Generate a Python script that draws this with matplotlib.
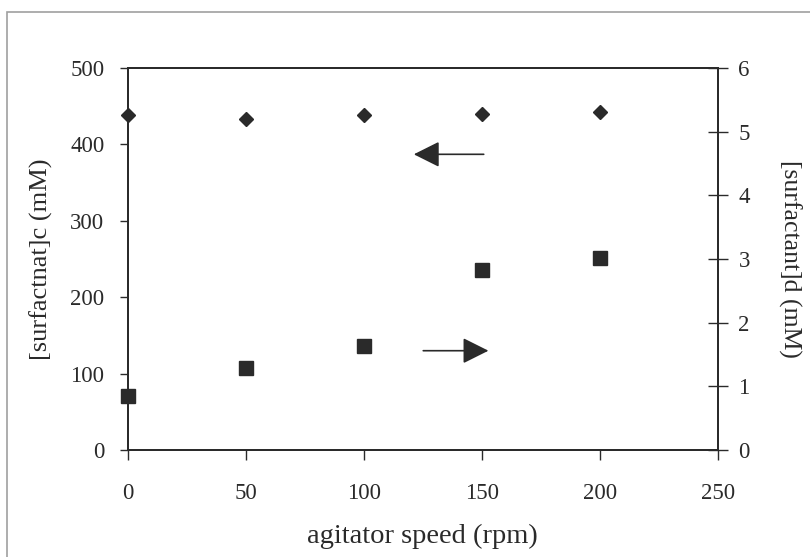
import numpy as np
import matplotlib.pyplot as plt
from matplotlib.patches import Rectangle

speed = [0, 50, 100, 150, 200]
surf_c = [438, 433, 439, 440, 443]      # left axis (mM)
surf_d = [0.85, 1.29, 1.63, 2.83, 3.01]  # right axis (mM)

plt.rcParams['font.family'] = ['Liberation Serif', 'DejaVu Serif']
ink = '#2a2a2a'

fig = plt.figure(figsize=(8.1, 5.57), dpi=100)
# scanned frame (left and top edges visible)
fig.patches.append(Rectangle((0.009, -0.1), 1.2, 1.078, transform=fig.transFigure,
                             fill=False, edgecolor='#a0a0a0', linewidth=1.2))

ax = fig.add_axes([0.158, 0.192, 0.728, 0.686])
ax2 = ax.twinx()

ax.plot(speed, surf_c, linestyle='none', marker='D', markersize=7, color=ink, clip_on=False)
ax2.plot(speed, surf_d, linestyle='none', marker='s', markersize=10, color=ink, clip_on=False)

ax.set_xlim(0, 250)
ax.set_ylim(0, 500)
ax2.set_ylim(0, 6)
ax.set_xticks([0, 50, 100, 150, 200, 250])
ax.set_yticks([0, 100, 200, 300, 400, 500])
ax2.set_yticks([0, 1, 2, 3, 4, 5, 6])

for a in (ax, ax2):
    for s in a.spines.values():
        s.set_color(ink)
        s.set_linewidth(1.3)
ax.tick_params(axis='x', direction='out', length=7, width=1, colors=ink,
               labelsize=16.5, pad=17)
ax.tick_params(axis='y', direction='out', length=6, width=1, colors=ink,
               labelsize=16.5, pad=11)
ax2.tick_params(axis='y', direction='inout', length=14, width=1, colors=ink,
                labelsize=16.5, pad=8)

ax.set_xlabel('agitator speed (rpm)', fontsize=20.5, color=ink, labelpad=14)
ax.set_ylabel('[surfactnat]c (mM)', fontsize=19, color=ink, labelpad=12)
ax2.set_ylabel('[surfactant]d (mM)', fontsize=18.5, color=ink, labelpad=20,
               rotation=270, va='bottom')

# direction arrows
ax.annotate('', xy=(120, 387), xytext=(152, 387),
            arrowprops=dict(arrowstyle='-|>,head_length=1.6,head_width=0.8', color=ink, lw=1.2))
ax.annotate('', xy=(154, 130), xytext=(124, 130),
            arrowprops=dict(arrowstyle='-|>,head_length=1.6,head_width=0.8', color=ink, lw=1.2))

fig.savefig('out.png', dpi=100)
